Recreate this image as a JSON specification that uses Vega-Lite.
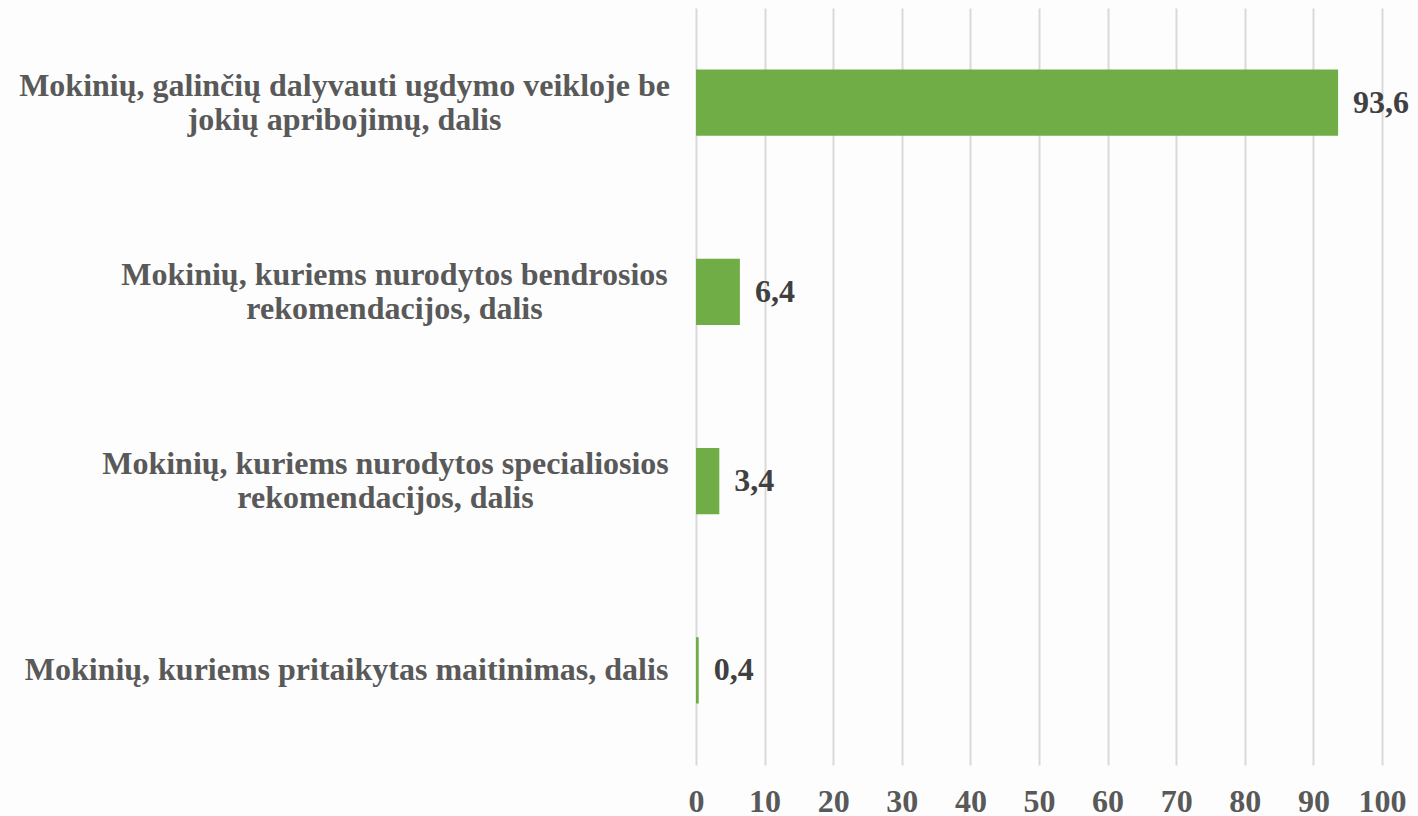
{
  "$schema": "https://vega.github.io/schema/vega-lite/v6.json",
  "width": 686,
  "height": 757,
  "autosize": "none",
  "padding": {"left": 696, "top": 8, "right": 36, "bottom": 51},
  "background": "#fdfdfd",
  "data": {
    "values": [
      {"category": "Mokinių, galinčių dalyvauti ugdymo veikloje be|jokių apribojimų, dalis", "value": 93.6, "text": "93,6"},
      {"category": "Mokinių, kuriems nurodytos bendrosios|rekomendacijos, dalis", "value": 6.4, "text": "6,4"},
      {"category": "Mokinių, kuriems nurodytos specialiosios|rekomendacijos, dalis", "value": 3.4, "text": "3,4"},
      {"category": "Mokinių, kuriems pritaikytas maitinimas, dalis", "value": 0.4, "text": "0,4"}
    ]
  },
  "config": {
    "view": {"stroke": null},
    "font": "Liberation Serif"
  },
  "encoding": {
    "y": {
      "field": "category",
      "type": "nominal",
      "sort": null,
      "title": null,
      "scale": {"paddingInner": 0.65, "paddingOuter": 0.325},
      "axis": {
        "domain": false,
        "ticks": false,
        "labelExpr": "split(datum.label, '|')",
        "labelFont": "Liberation Serif",
        "labelFontSize": 32,
        "labelFontWeight": "bold",
        "labelColor": "#595959",
        "labelLineHeight": 34,
        "labelLimit": 700,
        "labelAlign": "center",
        "labelOffset": {
          "condition": [
            {"test": "indexof(datum.value, '|') >= 0", "value": -17}
          ],
          "value": 0
        },
        "labelPadding": {
          "condition": [
            {"test": "indexof(datum.value, 'bendrosios') >= 0", "value": 302},
            {"test": "indexof(datum.value, 'specialiosios') >= 0", "value": 311},
            {"test": "indexof(datum.value, 'galinčių') >= 0", "value": 352}
          ],
          "value": 350
        }
      }
    }
  },
  "layer": [
    {
      "mark": {"type": "bar", "color": "#70AD47"},
      "encoding": {
        "x": {
          "field": "value",
          "type": "quantitative",
          "title": null,
          "scale": {"domain": [0, 100], "nice": false},
          "axis": {
            "values": [0, 10, 20, 30, 40, 50, 60, 70, 80, 90, 100],
            "domain": false,
            "ticks": false,
            "grid": true,
            "gridColor": "#d9d9d9",
            "gridWidth": 2,
            "labelFont": "Liberation Serif",
            "labelFontSize": 32,
            "labelFontWeight": "bold",
            "labelColor": "#595959",
            "labelPadding": 21,
            "labelFlush": false
          }
        }
      }
    },
    {
      "mark": {"type": "text", "align": "left", "baseline": "middle", "dx": 15, "font": "Liberation Serif", "fontSize": 32, "fontWeight": "bold", "color": "#404040"},
      "encoding": {
        "x": {"field": "value", "type": "quantitative"},
        "text": {"field": "text"}
      }
    }
  ]
}
